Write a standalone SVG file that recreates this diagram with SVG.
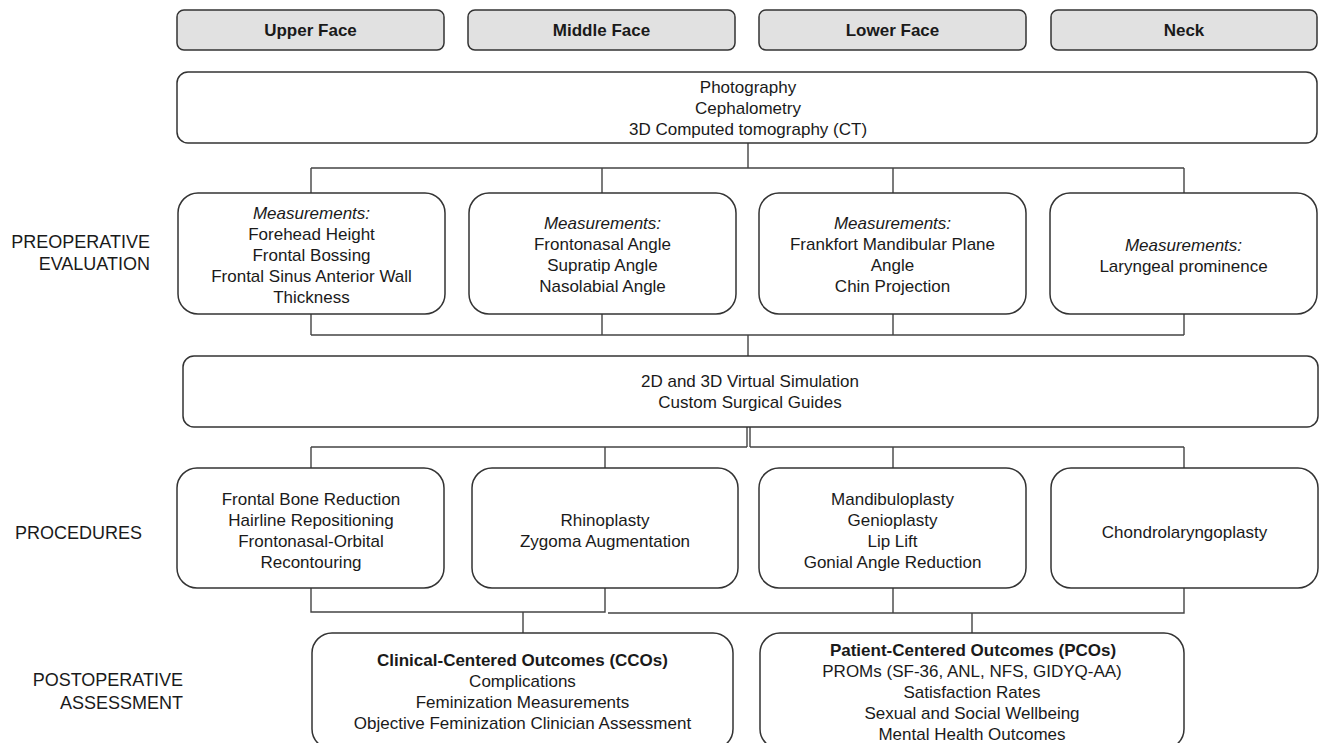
<svg xmlns="http://www.w3.org/2000/svg" width="1322" height="743" viewBox="0 0 1322 743">
<style>
  .hdr rect { fill: #e1e1e1; stroke: #333; stroke-width: 1.5; }
  .box { fill: #fff; stroke: #333; stroke-width: 1.5; }
  text { font-family: "Liberation Sans", Arial, sans-serif; font-size: 17px; fill: #1a1a1a; text-anchor: middle; }
  .b { font-weight: bold; }
  .i { font-style: italic; }
  .lbl { font-size: 18px; text-anchor: end; }
  .conn { fill: none; stroke: #444; stroke-width: 1.4; }
</style>
<rect width="1322" height="743" fill="#fff"/>

<g id="hdr-upper" class="hdr"><rect x="177" y="10" width="267" height="40" rx="7"/><text class="b" x="310.5" y="36">Upper Face</text></g>
<g id="hdr-middle" class="hdr"><rect x="468" y="10" width="267" height="40" rx="7"/><text class="b" x="601.5" y="36">Middle Face</text></g>
<g id="hdr-lower" class="hdr"><rect x="759" y="10" width="267" height="40" rx="7"/><text class="b" x="892.5" y="36">Lower Face</text></g>
<g id="hdr-neck" class="hdr"><rect x="1051" y="10" width="266" height="40" rx="7"/><text class="b" x="1184" y="36">Neck</text></g>

<g id="labels">
  <text class="lbl" x="150" y="248">PREOPERATIVE</text>
  <text class="lbl" x="150" y="270">EVALUATION</text>
  <text class="lbl" x="142" y="539">PROCEDURES</text>
  <text class="lbl" x="183" y="686">POSTOPERATIVE</text>
  <text class="lbl" x="183" y="709">ASSESSMENT</text>
</g>

<g id="connectors" class="conn">
  <path d="M748 143 V168 M311 168 H1184 M311 168 V193 M602 168 V193 M893 168 V193 M1184 168 V193"/>
  <path d="M311 314 V335 M602 314 V335 M893 314 V335 M1184 314 V335 M311 335 H1184 M748 335 V356"/>
  <path d="M747 427 V447 M311 447 H747 M311 447 V468 M605 447 V468"/>
  <path d="M750 427 V447 M750 447 H1184 M893 447 V468 M1184 447 V468"/>
  <path d="M311 588 V612 H605 V588 M523 612 V633"/>
  <path d="M608 613 H1184 V588 M893 588 V613 M972 613 V633"/>
</g>

<g id="imaging">
  <rect class="box" x="177" y="72" width="1140" height="71" rx="11"/>
  <text x="748" y="93">Photography</text>
  <text x="748" y="114">Cephalometry</text>
  <text x="748" y="135">3D Computed tomography (CT)</text>
</g>

<g id="meas-upper">
  <rect class="box" x="178" y="193" width="267" height="121" rx="20"/>
  <text class="i" x="311.5" y="219">Measurements:</text>
  <text x="311.5" y="240">Forehead Height</text>
  <text x="311.5" y="261">Frontal Bossing</text>
  <text x="311.5" y="282">Frontal Sinus Anterior Wall</text>
  <text x="311.5" y="303">Thickness</text>
</g>
<g id="meas-middle">
  <rect class="box" x="469" y="193" width="267" height="121" rx="20"/>
  <text class="i" x="602.5" y="229">Measurements:</text>
  <text x="602.5" y="250">Frontonasal Angle</text>
  <text x="602.5" y="271">Supratip Angle</text>
  <text x="602.5" y="292">Nasolabial Angle</text>
</g>
<g id="meas-lower">
  <rect class="box" x="759" y="193" width="267" height="121" rx="20"/>
  <text class="i" x="892.5" y="229">Measurements:</text>
  <text x="892.5" y="250">Frankfort Mandibular Plane</text>
  <text x="892.5" y="271">Angle</text>
  <text x="892.5" y="292">Chin Projection</text>
</g>
<g id="meas-neck">
  <rect class="box" x="1050" y="193" width="267" height="121" rx="20"/>
  <text class="i" x="1183.5" y="251">Measurements:</text>
  <text x="1183.5" y="272">Laryngeal prominence</text>
</g>

<g id="simulation">
  <rect class="box" x="183" y="356" width="1135" height="71" rx="11"/>
  <text x="750" y="387">2D and 3D Virtual Simulation</text>
  <text x="750" y="408">Custom Surgical Guides</text>
</g>

<g id="proc-upper">
  <rect class="box" x="177" y="468" width="267" height="120" rx="20"/>
  <text x="311" y="505">Frontal Bone Reduction</text>
  <text x="311" y="526">Hairline Repositioning</text>
  <text x="311" y="547">Frontonasal-Orbital</text>
  <text x="311" y="568">Recontouring</text>
</g>
<g id="proc-middle">
  <rect class="box" x="472" y="468" width="266" height="120" rx="20"/>
  <text x="605" y="526">Rhinoplasty</text>
  <text x="605" y="547">Zygoma Augmentation</text>
</g>
<g id="proc-lower">
  <rect class="box" x="759" y="468" width="267" height="120" rx="20"/>
  <text x="892.5" y="505">Mandibuloplasty</text>
  <text x="892.5" y="526">Genioplasty</text>
  <text x="892.5" y="547">Lip Lift</text>
  <text x="892.5" y="568">Gonial Angle Reduction</text>
</g>
<g id="proc-neck">
  <rect class="box" x="1051" y="468" width="267" height="120" rx="20"/>
  <text x="1184.5" y="538">Chondrolaryngoplasty</text>
</g>

<g id="cco">
  <rect class="box" x="312" y="633" width="421" height="116" rx="20"/>
  <text class="b" x="522.5" y="666">Clinical-Centered Outcomes (CCOs)</text>
  <text x="522.5" y="687">Complications</text>
  <text x="522.5" y="708">Feminization Measurements</text>
  <text x="522.5" y="729">Objective Feminization Clinician Assessment</text>
</g>
<g id="pco">
  <rect class="box" x="760" y="633" width="424" height="116" rx="20"/>
  <text class="b" x="973" y="656">Patient-Centered Outcomes (PCOs)</text>
  <text x="972" y="677">PROMs (SF-36, ANL, NFS, GIDYQ-AA)</text>
  <text x="972" y="698">Satisfaction Rates</text>
  <text x="972" y="719">Sexual and Social Wellbeing</text>
  <text x="972" y="740">Mental Health Outcomes</text>
</g>
</svg>
